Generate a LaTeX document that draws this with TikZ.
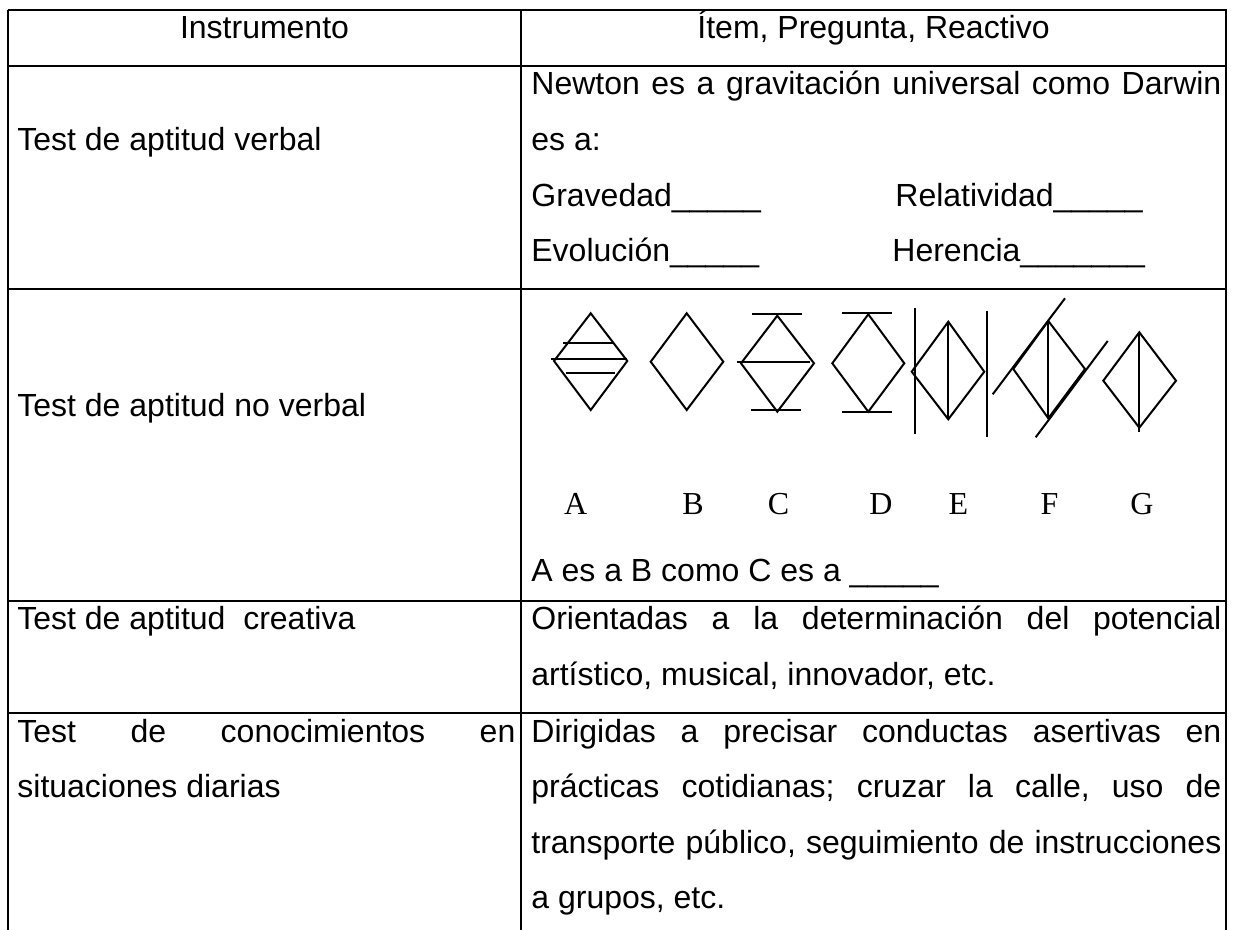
\documentclass[tikz,border=0pt]{standalone}
\usepackage{fontspec}
\setmainfont{Liberation Sans}
\newfontfamily\serifletters{Liberation Serif}
\newcommand{\jright}[1]{\makebox[345pt][s]{#1}}
\newcommand{\jleft}[1]{\makebox[249pt][s]{#1}}
\frenchspacing
\begin{document}
\begin{tikzpicture}[x=0.5pt,y=-0.5pt,
  rule/.style={line width=1.1pt},
  glyph/.style={line width=1pt, line join=miter},
  txt/.style={inner sep=0pt, anchor=base west, font=\fontsize{16}{20}\selectfont\frenchspacing},
  ctxt/.style={txt, anchor=base},
  lett/.style={inner sep=0pt, anchor=base, font=\fontsize{16}{20}\serifletters}]
\useasboundingbox (0,0) rectangle (1233,930);
\fill[white] (0,0) rectangle (1233,930);

% table rules
\draw[rule] (7.5,10) -- (1226.5,10);
\draw[rule] (7.5,66) -- (1226.5,66);
\draw[rule] (7.5,289) -- (1226.5,289);
\draw[rule] (7.5,601) -- (1226.5,601);
\draw[rule] (7.5,713) -- (1226.5,713);
\draw[rule] (8,10) -- (8,930);
\draw[rule] (521,10) -- (521,930);
\draw[rule] (1226,10) -- (1226,930);

% header
\node[ctxt] (h1) at (264.5,39) {Instrumento};
\node[ctxt] (h2) at (873.5,39) {Ítem, Pregunta, Reactivo};

% row 1
\node[txt] (l1) at (17,150.6) {Test de aptitud verbal};
\node[txt] (r1a) at (531,95) {\jright{Newton es a gravitación universal como Darwin}};
\node[txt] (r1b) at (531,150.6) {es a:};
\node[txt] (r1c) at (531,206.2) {Gravedad\_\_\_\_\_};
\node[txt] (r1d) at (895,206.2) {Relatividad\_\_\_\_\_};
\node[txt] (r1e) at (531,261.8) {Evolución\_\_\_\_\_};
\node[txt] (r1f) at (892,261.8) {Herencia\_\_\_\_\_\_\_};

% row 2
\node[txt] (l2) at (17,416.5) {Test de aptitud no verbal};

% diamond A
\draw[glyph] (590.7,313.3) -- (627.3,361) -- (590.7,410) -- (554,361) -- cycle;
\draw[glyph] (563.3,343.3) -- (612.7,343.3);
\draw[glyph] (551,359) -- (626.7,359);
\draw[glyph] (566,373.3) -- (615,373.3);
% diamond B
\draw[glyph] (686.7,313.3) -- (723.3,361.7) -- (686.7,410) -- (650.7,361.7) -- cycle;
% diamond C
\draw[glyph] (777.3,315.7) -- (814,363.3) -- (777.3,411.7) -- (741,363.3) -- cycle;
\draw[glyph] (752.3,314.3) -- (801.7,314.3);
\draw[glyph] (736.7,362.3) -- (810,362.3);
\draw[glyph] (751,410) -- (800.7,410);
% diamond D
\draw[glyph] (868.3,314.3) -- (904.3,363.3) -- (868.3,411.7) -- (832.3,363.3) -- cycle;
\draw[glyph] (842.3,313.3) -- (891.7,313.3);
\draw[glyph] (842.3,412.3) -- (891.7,412.3);
% diamond E
\draw[glyph] (915,308.3) -- (915,434.3);
\draw[glyph] (948.3,321.7) -- (984.3,371.7) -- (948.3,419.3) -- (911.7,371.7) -- cycle;
\draw[glyph] (948.3,321.7) -- (948.3,419.3);
\draw[glyph] (986.7,311) -- (986.7,436.7);
% diamond F
\draw[glyph] (1048.3,321) -- (1085,369) -- (1048.3,418.3) -- (1013.3,369) -- cycle;
\draw[glyph] (1048.3,321) -- (1048.3,418.3);
\draw[glyph] (992.7,394.3) -- (1065,298.3);
\draw[glyph] (1035.7,437.3) -- (1107.7,341);
% diamond G
\draw[glyph] (1139.3,332.3) -- (1176,380.7) -- (1139.3,427.7) -- (1103.3,380.7) -- cycle;
\draw[glyph] (1139.3,332.3) -- (1139.3,432.3);

% letters
\node[lett] (la) at (575.6,515) {A};
\node[lett] (lb) at (693,515) {B};
\node[lett] (lc) at (778.5,515) {C};
\node[lett] (ld) at (881,515) {D};
\node[lett] (le) at (958.5,515) {E};
\node[lett] (lf) at (1049.6,515) {F};
\node[lett] (lg) at (1142,515) {G};

\node[txt] (r2a) at (531,581.5) {A es a B como C es a \_\_\_\_\_};

% row 3
\node[txt] (l3) at (17,630) {Test de aptitud\ \ creativa};
\node[txt] (r3a) at (531,630) {\jright{Orientadas a la determinación del potencial}};
\node[txt] (r3b) at (531,685.6) {artístico, musical, innovador, etc.};

% row 4
\node[txt] (l4a) at (17,742) {\jleft{Test de conocimientos en}};
\node[txt] (l4b) at (17,797.6) {situaciones diarias};
\node[txt] (r4a) at (531,742) {\jright{Dirigidas a precisar conductas asertivas en}};
\node[txt] (r4b) at (531,797.6) {\jright{prácticas cotidianas; cruzar la calle, uso de}};
\node[txt] (r4c) at (531,853.2) {\jright{transporte público, seguimiento de instrucciones}};
\node[txt] (r4d) at (531,908.8) {a grupos, etc.};
\end{tikzpicture}
\end{document}
